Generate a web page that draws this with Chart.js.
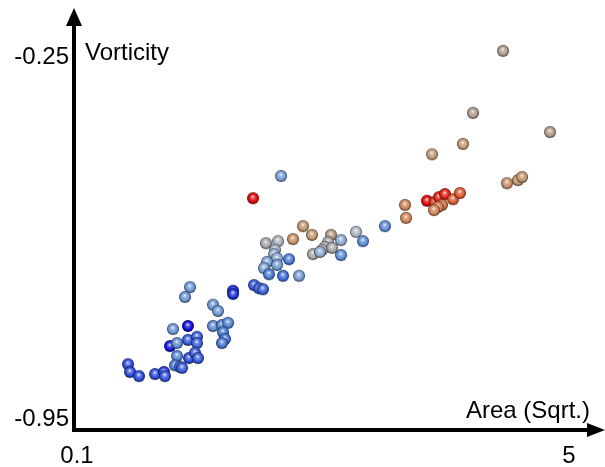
<!DOCTYPE html>
<html>
<head>
<meta charset="utf-8">
<script src="https://cdn.jsdelivr.net/npm/chart.js@4"></script>
<style>
  html, body { margin: 0; padding: 0; background: #ffffff; }
  #wrap { width: 605px; height: 467px; position: relative; }
</style>
</head>
<body>
<div id="wrap"><canvas id="vortChart"></canvas></div>
<script>
// area (sqrt.) per cell
const areaSqrt = [
  0.608, 0.628, 0.717, 0.877, 0.966, 0.976, 1.056, 1.205, 1.026, 1.096,
  1.205, 1.295, 1.295, 1.096, 1.076, 1.126, 1.146, 1.215, 1.275, 1.305,
  1.454, 1.504, 1.454, 1.544, 1.604, 1.554, 1.574, 1.544, 1.225, 1.176,
  1.654, 1.654, 1.863, 1.913, 1.952, 1.982, 2.102, 2.251, 2.072, 2.062,
  2.092, 1.992, 1.962, 2.092, 2.012, 2.211, 2.152, 2.311, 2.132, 1.853,
  2.351, 2.440, 2.630, 2.600, 2.570, 2.540, 2.450, 2.520, 2.640, 2.729,
  2.879, 2.948, 3.167, 2.729, 4.343, 4.044, 4.811, 3.944, 3.636, 4.382,
  4.492, 4.532, 3.367, 3.377, 3.586, 3.665, 3.705, 3.765, 3.845, 3.914,
  3.735, 3.695, 3.655
];

// vorticity per cell
const vorticity = [
  -0.846, -0.861, -0.869, -0.865, -0.861, -0.869, -0.778, -0.772, -0.811, -0.805,
  -0.799, -0.793, -0.805, -0.830, -0.848, -0.851, -0.853, -0.834, -0.824, -0.834,
  -0.731, -0.743, -0.772, -0.770, -0.766, -0.784, -0.797, -0.805, -0.697, -0.716,
  -0.704, -0.710, -0.693, -0.699, -0.701, -0.612, -0.608, -0.604, -0.625, -0.633,
  -0.641, -0.648, -0.660, -0.654, -0.672, -0.643, -0.675, -0.675, -0.482, -0.525,
  -0.579, -0.596, -0.596, -0.610, -0.619, -0.625, -0.633, -0.629, -0.621, -0.606,
  -0.590, -0.608, -0.579, -0.635, -0.240, -0.360, -0.397, -0.420, -0.440, -0.496,
  -0.490, -0.484, -0.538, -0.563, -0.530, -0.532, -0.523, -0.517, -0.527, -0.515,
  -0.538, -0.542, -0.548
];

// third variable used for colouring (0 = blue end, 1 = red end)
const shade = [
  0.15, 0.15, 0.15, 0.15, 0.12, 0.18, 0.38, 0.00, 0.02, 0.35,
  0.20, 0.22, 0.22, 0.33, 0.30, 0.25, 0.20, 0.15, 0.20, 0.20,
  0.38, 0.38, 0.35, 0.33, 0.33, 0.30, 0.28, 0.28, 0.38, 0.38,
  0.08, 0.08, 0.20, 0.20, 0.22, 0.55, 0.52, 0.75, 0.48, 0.46,
  0.45, 0.42, 0.42, 0.40, 0.30, 0.30, 0.25, 0.40, 0.40, 1.00,
  0.72, 0.70, 0.65, 0.55, 0.55, 0.52, 0.55, 0.45, 0.55, 0.45,
  0.50, 0.35, 0.35, 0.35, 0.62, 0.62, 0.64, 0.70, 0.70, 0.75,
  0.72, 0.72, 0.80, 0.80, 1.00, 0.93, 0.97, 0.97, 0.90, 0.90,
  0.85, 0.83, 0.80
];

const xTicks = [0.1, 5];
const yTicks = [-0.25, -0.95];
const xTitle = "Area (Sqrt.)";
const yTitle = "Vorticity";

const colorStops = [
  [0.00, [10, 10, 215]],
  [0.15, [40, 70, 215]],
  [0.30, [70, 120, 210]],
  [0.42, [120, 160, 210]],
  [0.50, [170, 180, 195]],
  [0.58, [160, 152, 150]],
  [0.70, [190, 150, 112]],
  [0.80, [205, 130, 85]],
  [0.90, [220, 85, 45]],
  [1.00, [225, 0, 0]]
];

function colorAt(t) {
  for (let i = 1; i < colorStops.length; i++) {
    const [t1, c1] = colorStops[i];
    const [t0, c0] = colorStops[i - 1];
    if (t <= t1) {
      const f = (t - t0) / (t1 - t0 || 1);
      return c0.map((v, k) => Math.round(v + (c1[k] - v) * f));
    }
  }
  return colorStops[colorStops.length - 1][1];
}

const mix = (c, target, f) => c.map(v => Math.round(v + (target - v) * f));
const rgb = c => `rgb(${c[0]},${c[1]},${c[2]})`;

// little shaded ball used as point image
function sphere(t) {
  const r = 6;
  const size = 14;
  const cv = document.createElement("canvas");
  cv.width = size;
  cv.height = size;
  const ctx = cv.getContext("2d");
  const c = colorAt(t);
  const cx = size / 2, cy = size / 2;
  const g = ctx.createRadialGradient(cx - 0.3, cy - 1.6, 0.2, cx, cy, r);
  g.addColorStop(0, rgb(mix(c, 255, 0.85)));
  g.addColorStop(0.3, rgb(mix(c, 255, 0.3)));
  g.addColorStop(0.72, rgb(c));
  g.addColorStop(1, rgb(mix(c, 0, 0.65)));
  ctx.fillStyle = g;
  ctx.beginPath();
  ctx.arc(cx, cy, r, 0, Math.PI * 2);
  ctx.fill();
  return cv;
}

const FONT = '24px "Liberation Sans", Helvetica, Arial, sans-serif';

const axesPlugin = {
  id: "arrowAxes",
  afterDraw(chart) {
    const { ctx, chartArea, scales } = chart;
    const ax = chartArea.left - 3;
    const ay = chartArea.bottom + 12;
    ctx.save();
    ctx.fillStyle = "#000";
    ctx.strokeStyle = "#000";
    ctx.lineWidth = 4;

    // vertical axis + arrow
    ctx.beginPath();
    ctx.moveTo(ax, ay + 2);
    ctx.lineTo(ax, 22);
    ctx.stroke();
    ctx.beginPath();
    ctx.moveTo(ax, 8);
    ctx.lineTo(ax - 8, 26);
    ctx.lineTo(ax + 8, 26);
    ctx.closePath();
    ctx.fill();

    // horizontal axis + arrow
    ctx.beginPath();
    ctx.moveTo(ax - 2, ay);
    ctx.lineTo(chart.width - 14, ay);
    ctx.stroke();
    ctx.beginPath();
    ctx.moveTo(chart.width, ay);
    ctx.lineTo(chart.width - 18, ay - 7);
    ctx.lineTo(chart.width - 18, ay + 7);
    ctx.closePath();
    ctx.fill();

    ctx.font = FONT;
    ctx.textBaseline = "alphabetic";

    ctx.textAlign = "right";
    yTicks.forEach(v => {
      ctx.fillText(String(v), ax - 5, scales.y.getPixelForValue(v) + 8);
    });

    ctx.textAlign = "center";
    xTicks.forEach(v => {
      ctx.fillText(String(v), scales.x.getPixelForValue(v), chartArea.bottom + 45);
    });

    ctx.textAlign = "left";
    ctx.fillText(yTitle, chartArea.left + 8, chartArea.top + 4);

    ctx.textAlign = "right";
    ctx.fillText(xTitle, chartArea.right + 21, chartArea.bottom);

    ctx.restore();
  }
};

new Chart(document.getElementById("vortChart"), {
  type: "scatter",
  data: {
    datasets: [{
      data: areaSqrt.map((x, i) => ({ x: x, y: vorticity[i] })),
      pointStyle: shade.map(sphere),
      pointRadius: 6,
      clip: false
    }]
  },
  options: {
    responsive: true,
    maintainAspectRatio: false,
    animation: false,
    layout: {
      padding: { left: 77, right: 36, top: 56, bottom: 49 }
    },
    scales: {
      x: { type: "linear", min: 0.1, max: 5, display: false },
      y: { type: "linear", min: -0.95, max: -0.25, display: false }
    },
    plugins: {
      legend: { display: false },
      tooltip: { enabled: false }
    }
  },
  plugins: [axesPlugin]
});
</script>
</body>
</html>
